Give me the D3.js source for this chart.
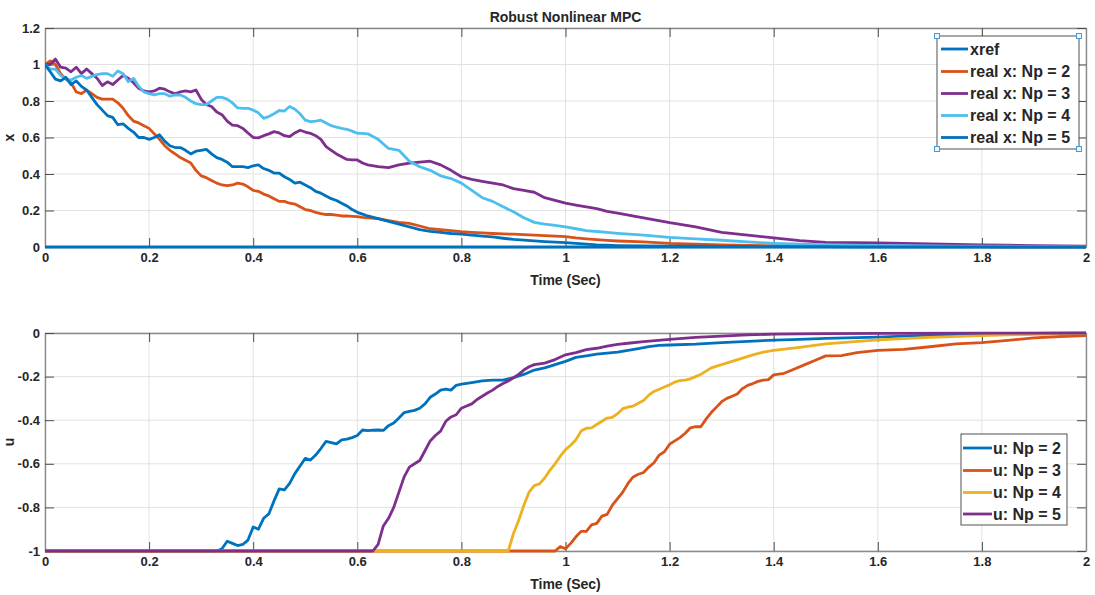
<!DOCTYPE html>
<html><head><meta charset="utf-8">
<script src="https://cdn.jsdelivr.net/npm/d3@7"></script>
<style>
body{margin:0;background:#fff}
svg{display:block}
text{font-family:Arial,"Liberation Sans",Helvetica,sans-serif;font-weight:bold;fill:#262626}
</style>
</head><body>
<svg id="c" width="1095" height="595"></svg>
<script>
// ---------- DATA ----------
const xTicks = [0,0.2,0.4,0.6,0.8,1,1.2,1.4,1.6,1.8,2];
const xTickLabels = ["0","0.2","0.4","0.6","0.8","1","1.2","1.4","1.6","1.8","2"];
const yTicksTop = [0,0.2,0.4,0.6,0.8,1,1.2];
const yTickLabelsTop = ["0","0.2","0.4","0.6","0.8","1","1.2"];
const yTicksBot = [-1,-0.8,-0.6,-0.4,-0.2,0];
const yTickLabelsBot = ["-1","-0.8","-0.6","-0.4","-0.2","0"];

const tTop = [0,0.01,0.02,0.03,0.04,0.05,0.06,0.07,0.08,0.09,
0.10,0.11,0.12,0.13,0.14,0.15,0.16,0.17,0.18,0.19,
0.20,0.21,0.22,0.23,0.24,0.25,0.26,0.27,0.28,0.29,
0.30,0.31,0.32,0.33,0.34,0.35,0.36,0.37,0.38,0.39,
0.40,0.41,0.42,0.43,0.44,0.45,0.46,0.47,0.48,0.49,
0.50,0.51,0.52,0.53,0.54,0.55,0.56,0.57,0.58,0.59,
0.60,0.61,0.62,
0.64,0.66,0.68,0.70,0.72,0.74,0.76,0.78,0.80,0.82,0.84,0.86,0.88,0.90,0.92,0.94,0.96,0.98,1.00,1.02,1.04,1.06,1.08,1.10,
1.15,1.20,1.25,1.30,1.35,1.40,1.45,1.50,1.55,1.60,1.65,1.70,1.75,1.80,1.85,1.90,1.95,2.00];

const tRef = [0, 2];
const xref = [0, 0];

const xNp2 = [1.0,1.02,1.0,0.95,0.92,0.90,0.85,0.84,0.86,0.84,
0.82,0.81,0.81,0.81,0.79,0.76,0.72,0.69,0.68,0.665,
0.65,0.62,0.59,0.555,0.53,0.51,0.49,0.475,0.46,0.42,
0.39,0.38,0.365,0.35,0.34,0.336,0.34,0.35,0.345,0.33,
0.31,0.305,0.29,0.28,0.265,0.25,0.25,0.24,0.235,0.22,
0.205,0.20,0.19,0.183,0.178,0.178,0.175,0.17,0.17,0.168,
0.166,0.162,0.16,
0.155,0.145,0.135,0.13,0.115,0.10,0.095,0.09,0.084,0.08,0.077,0.074,0.072,0.07,0.068,0.065,0.062,0.06,0.057,0.05,0.045,0.04,0.036,0.033,
0.028,0.02,0.016,0.012,0.009,0.007,0.005,0.004,0.004,0.003,0.003,0.002,0.002,0.002,0.001,0.001,0.001,0.001];

const xNp3 = [1.0,1.0,1.03,0.985,0.98,0.96,0.985,0.95,0.975,0.95,
0.925,0.885,0.905,0.89,0.915,0.94,0.925,0.9,0.87,0.855,
0.85,0.855,0.87,0.865,0.85,0.84,0.85,0.855,0.85,0.86,
0.81,0.78,0.77,0.74,0.725,0.69,0.668,0.665,0.65,0.625,
0.6,0.598,0.61,0.62,0.632,0.625,0.61,0.605,0.625,0.64,
0.63,0.623,0.61,0.59,0.55,0.53,0.51,0.495,0.48,0.477,
0.477,0.46,0.45,
0.44,0.435,0.45,0.46,0.465,0.47,0.45,0.42,0.385,0.37,0.36,0.35,0.34,0.32,0.31,0.30,0.27,0.255,0.24,0.23,0.22,0.21,0.195,0.185,
0.16,0.133,0.11,0.08,0.065,0.05,0.035,0.025,0.024,0.022,0.02,0.017,0.014,0.012,0.01,0.008,0.006,0.005];

const xNp4 = [1.0,0.975,0.975,0.94,0.92,0.915,0.93,0.94,0.924,0.935,
0.945,0.95,0.95,0.935,0.965,0.95,0.906,0.924,0.88,0.85,
0.84,0.833,0.84,0.84,0.826,0.833,0.833,0.82,0.80,0.785,
0.78,0.78,0.80,0.82,0.82,0.81,0.79,0.762,0.76,0.76,
0.75,0.735,0.705,0.715,0.73,0.748,0.745,0.77,0.755,0.73,
0.695,0.687,0.69,0.695,0.68,0.665,0.657,0.65,0.645,0.635,
0.623,0.623,0.62,
0.59,0.54,0.53,0.47,0.44,0.42,0.39,0.375,0.35,0.31,0.27,0.25,0.22,0.193,0.16,0.135,0.125,0.118,0.11,0.10,0.09,0.085,0.08,0.075,
0.065,0.053,0.045,0.037,0.028,0.02,0.015,0.012,0.01,0.008,0.007,0.006,0.005,0.004,0.004,0.003,0.003,0.002];

const xNp5 = [1.0,0.96,0.92,0.91,0.93,0.89,0.91,0.88,0.86,0.82,
0.78,0.75,0.72,0.71,0.67,0.675,0.65,0.63,0.60,0.60,
0.59,0.60,0.615,0.58,0.555,0.545,0.545,0.53,0.51,0.525,
0.53,0.535,0.51,0.49,0.48,0.465,0.44,0.44,0.44,0.435,
0.445,0.45,0.43,0.42,0.405,0.405,0.385,0.37,0.35,0.355,
0.34,0.325,0.305,0.295,0.28,0.265,0.255,0.24,0.225,0.205,
0.19,0.18,0.17,
0.155,0.14,0.125,0.11,0.095,0.086,0.08,0.074,0.07,0.065,0.06,0.055,0.048,0.042,0.038,0.034,0.03,0.027,0.024,0.02,0.016,0.012,0.01,0.008,
0.006,0.005,0.004,0.003,0.003,0.002,0.002,0.002,0.001,0.001,0.001,0.001,0.001,0.001,0,0,0,0];

const tU2 = [0,0.33,0.34,0.35,0.36,0.37,0.38,0.39,0.40,0.41,0.42,0.43,0.44,0.45,0.46,0.47,0.48,0.49,0.50,0.51,0.52,0.53,0.54,0.55,0.56,0.57,0.58,0.59,0.60,0.61,0.62,0.63,0.64,0.65,0.66,0.67,0.68,0.69,0.70,0.71,0.72,0.73,0.74,0.75,0.76,0.77,0.78,0.79,0.80,0.82,0.84,0.86,0.88,0.90,0.92,0.94,0.96,0.98,1.00,1.02,1.04,1.06,1.08,1.10,1.12,1.14,1.16,1.18,1.20,1.25,1.30,1.35,1.40,1.45,1.50,1.60,1.70,1.80,1.90,2.00];
const uNp2 = [-1,-1,-0.99,-0.955,-0.965,-0.975,-0.97,-0.95,-0.89,-0.9,-0.85,-0.83,-0.77,-0.715,-0.72,-0.69,-0.645,-0.61,-0.575,-0.583,-0.56,-0.53,-0.497,-0.503,-0.509,-0.49,-0.487,-0.48,-0.47,-0.445,-0.448,-0.446,-0.445,-0.447,-0.425,-0.413,-0.39,-0.365,-0.36,-0.355,-0.345,-0.325,-0.295,-0.28,-0.262,-0.258,-0.262,-0.24,-0.235,-0.228,-0.22,-0.216,-0.216,-0.205,-0.19,-0.17,-0.16,-0.145,-0.13,-0.112,-0.105,-0.097,-0.092,-0.088,-0.08,-0.072,-0.063,-0.057,-0.055,-0.051,-0.044,-0.038,-0.033,-0.029,-0.025,-0.019,-0.01,-0.005,-0.002,-0.001];

const tU3 = [0,0.98,0.99,1.00,1.01,1.02,1.03,1.04,1.05,1.06,1.07,1.08,1.09,1.10,1.11,1.12,1.13,1.14,1.15,1.16,1.17,1.18,1.19,1.20,1.21,1.22,1.23,1.24,1.25,1.26,1.27,1.28,1.29,1.30,1.31,1.32,1.33,1.34,1.35,1.36,1.37,1.38,1.39,1.40,1.42,1.44,1.46,1.48,1.50,1.53,1.56,1.60,1.65,1.70,1.75,1.80,1.85,1.90,1.95,2.00];
const uNp3 = [-1,-1,-0.98,-0.99,-0.965,-0.935,-0.91,-0.91,-0.88,-0.873,-0.84,-0.832,-0.79,-0.76,-0.73,-0.69,-0.66,-0.648,-0.64,-0.615,-0.595,-0.56,-0.545,-0.51,-0.495,-0.48,-0.46,-0.435,-0.43,-0.43,-0.395,-0.365,-0.34,-0.315,-0.3,-0.29,-0.28,-0.255,-0.24,-0.232,-0.222,-0.216,-0.214,-0.192,-0.185,-0.165,-0.145,-0.125,-0.105,-0.104,-0.09,-0.08,-0.075,-0.063,-0.05,-0.044,-0.034,-0.022,-0.016,-0.012];

const tU4 = [0,0.89,0.90,0.91,0.92,0.93,0.94,0.95,0.96,0.97,0.98,0.99,1.00,1.01,1.02,1.03,1.04,1.05,1.06,1.07,1.08,1.09,1.10,1.11,1.12,1.13,1.14,1.15,1.16,1.17,1.18,1.19,1.20,1.21,1.22,1.23,1.24,1.25,1.26,1.28,1.30,1.32,1.34,1.36,1.38,1.40,1.45,1.50,1.60,1.70,1.80,1.90,2.00];
const uNp4 = [-1,-1,-0.92,-0.86,-0.79,-0.73,-0.70,-0.692,-0.665,-0.63,-0.60,-0.565,-0.535,-0.515,-0.49,-0.45,-0.437,-0.435,-0.42,-0.405,-0.39,-0.387,-0.37,-0.347,-0.34,-0.335,-0.322,-0.31,-0.285,-0.268,-0.258,-0.248,-0.238,-0.225,-0.218,-0.216,-0.21,-0.2,-0.19,-0.16,-0.145,-0.13,-0.115,-0.1,-0.088,-0.08,-0.066,-0.05,-0.032,-0.02,-0.012,-0.006,-0.002];

const tU5 = [0,0.63,0.64,0.65,0.66,0.67,0.68,0.69,0.70,0.71,0.72,0.73,0.74,0.75,0.76,0.77,0.78,0.79,0.80,0.81,0.82,0.83,0.84,0.85,0.86,0.87,0.88,0.89,0.90,0.91,0.92,0.93,0.94,0.96,0.98,1.00,1.02,1.04,1.06,1.08,1.10,1.12,1.15,1.20,1.25,1.30,1.35,1.40,1.50,1.60,1.80,2.00];
const uNp5 = [-1,-1,-0.97,-0.885,-0.85,-0.80,-0.73,-0.66,-0.615,-0.6,-0.585,-0.54,-0.495,-0.47,-0.45,-0.405,-0.385,-0.375,-0.345,-0.335,-0.325,-0.305,-0.29,-0.275,-0.262,-0.245,-0.232,-0.22,-0.205,-0.19,-0.17,-0.155,-0.145,-0.138,-0.122,-0.1,-0.09,-0.076,-0.07,-0.06,-0.052,-0.047,-0.04,-0.029,-0.02,-0.014,-0.009,-0.005,-0.003,-0.002,-0.001,0];

const topLegend = ["xref","real x: Np = 2","real x: Np = 3","real x: Np = 4","real x: Np = 5"];
const botLegend = ["u: Np = 2","u: Np = 3","u: Np = 4","u: Np = 5"];

// ---------- STYLE ----------
const C = {blue:"#0072BD", orange:"#D95319", yellow:"#EDB120", purple:"#7E2F8E", lblue:"#4DBEEE"};
const svg = d3.select("#c");
const L = 45, R = 1086;

function panel(cfg){
  const x = d3.scaleLinear().domain([0,2]).range([L,R]);
  const y = d3.scaleLinear().domain(cfg.yDomain).range([cfg.bottom,cfg.top]);
  const g = svg.append("g");
  const id = "clip"+cfg.name;
  svg.append("clipPath").attr("id",id).append("rect")
    .attr("x",L).attr("y",cfg.top-2).attr("width",R-L).attr("height",cfg.bottom-cfg.top+4);
  // grid
  g.selectAll(".gx").data(xTicks).join("line")
    .attr("x1",d=>x(d)).attr("x2",d=>x(d)).attr("y1",cfg.top).attr("y2",cfg.bottom)
    .attr("stroke","#e2e2e2").attr("stroke-width",1);
  g.selectAll(".gy").data(cfg.yTicks).join("line")
    .attr("y1",d=>y(d)).attr("y2",d=>y(d)).attr("x1",L).attr("x2",R)
    .attr("stroke","#e2e2e2").attr("stroke-width",1);
  // axes
  const fmtX = (d,i)=>xTickLabels[i];
  const fmtY = (d,i)=>cfg.yLabels[i];
  const ax = [
    g.append("g").attr("transform",`translate(0,${cfg.bottom})`).call(d3.axisBottom(x).tickValues(xTicks).tickFormat(fmtX).tickSizeInner(-9).tickSizeOuter(0).tickPadding(6)),
    g.append("g").attr("transform",`translate(0,${cfg.top})`).call(d3.axisTop(x).tickValues(xTicks).tickFormat("").tickSizeInner(-9).tickSizeOuter(0)),
    g.append("g").attr("transform",`translate(${L},0)`).call(d3.axisLeft(y).tickValues(cfg.yTicks).tickFormat(fmtY).tickSizeInner(-9).tickSizeOuter(0).tickPadding(5)),
    g.append("g").attr("transform",`translate(${R},0)`).call(d3.axisRight(y).tickValues(cfg.yTicks).tickFormat("").tickSizeInner(-9).tickSizeOuter(0))
  ];
  ax.forEach(a=>{
    a.select(".domain").attr("stroke","#8a8a8a").attr("stroke-width",1.4);
    a.selectAll(".tick line").attr("stroke","#4d4d4d");
    a.selectAll(".tick text").attr("font-size","13px").attr("font-family","Arial, 'Liberation Sans', sans-serif").attr("font-weight","bold").attr("fill","#262626");
  });
  // lines
  const lg = g.append("g").attr("clip-path",`url(#${id})`);
  cfg.series.forEach(s=>{
    const pts = s.t.map((t,i)=>[t,s.v[i]]);
    lg.append("path").datum(pts)
      .attr("d", d3.line().x(d=>x(d[0])).y(d=>y(d[1])))
      .attr("fill","none").attr("stroke",s.color).attr("stroke-width",s.w||2.8)
      .attr("stroke-linejoin","round");
  });
  // axis labels
  svg.append("text").attr("x",(L+R)/2).attr("y",cfg.xlabY).attr("text-anchor","middle")
    .attr("font-size","14px").text("Time (Sec)");
  svg.append("text").attr("transform",`translate(14,${(cfg.top+cfg.bottom)/2}) rotate(-90)`)
    .attr("text-anchor","middle").attr("font-size","14px").text(cfg.ylab);
  return {x,y};
}

panel({name:"top", top:28, bottom:247, yDomain:[0,1.2], yTicks:yTicksTop, yLabels:yTickLabelsTop,
  xlabY:285, ylab:"x",
  series:[
    {t:tRef, v:xref, color:C.blue, w:3.2},
    {t:tTop, v:xNp2, color:C.orange},
    {t:tTop, v:xNp3, color:C.purple},
    {t:tTop, v:xNp4, color:C.lblue},
    {t:tTop, v:xNp5, color:C.blue}
  ]});

panel({name:"bot", top:333, bottom:551, yDomain:[-1,0], yTicks:yTicksBot, yLabels:yTickLabelsBot,
  xlabY:589, ylab:"u",
  series:[
    {t:tU2, v:uNp2, color:C.blue},
    {t:tU3, v:uNp3, color:C.orange},
    {t:tU4, v:uNp4, color:C.yellow},
    {t:tU5, v:uNp5, color:C.purple}
  ]});

// title
svg.append("text").attr("x",(L+R)/2).attr("y",22).attr("text-anchor","middle")
  .attr("font-size","14px").text("Robust Nonlinear MPC");

// legends
function legend(x0,y0,w,h,labels,colors,rowY,lineX0,lineX1,textX,handles){
  const g = svg.append("g");
  g.append("rect").attr("x",x0).attr("y",y0).attr("width",w).attr("height",h)
    .attr("fill","#fff").attr("stroke","#262626").attr("stroke-width",0.8);
  labels.forEach((lab,i)=>{
    g.append("line").attr("x1",lineX0).attr("x2",lineX1).attr("y1",rowY[i]).attr("y2",rowY[i])
      .attr("stroke",colors[i]).attr("stroke-width",2.8);
    g.append("text").attr("x",textX).attr("y",rowY[i]).attr("dy","0.36em")
      .attr("font-size","16px").text(lab);
  });
  if(handles){
    [[x0,y0],[x0+w,y0],[x0,y0+h],[x0+w,y0+h]].forEach(p=>{
      g.append("rect").attr("x",p[0]-2.5).attr("y",p[1]-2.5).attr("width",5).attr("height",5)
        .attr("fill","#eaf6fd").attr("stroke","#4a9bd0").attr("stroke-width",1);
    });
  }
}
legend(937,36,142,113,topLegend,[C.blue,C.orange,C.purple,C.lblue,C.blue],[49,71.5,93.5,115.5,137.5],941,968,970,true);
legend(961,434,106,91,botLegend,[C.blue,C.orange,C.yellow,C.purple],[448,470.5,492.5,514],963,992,993,false);
</script>
</body></html>
